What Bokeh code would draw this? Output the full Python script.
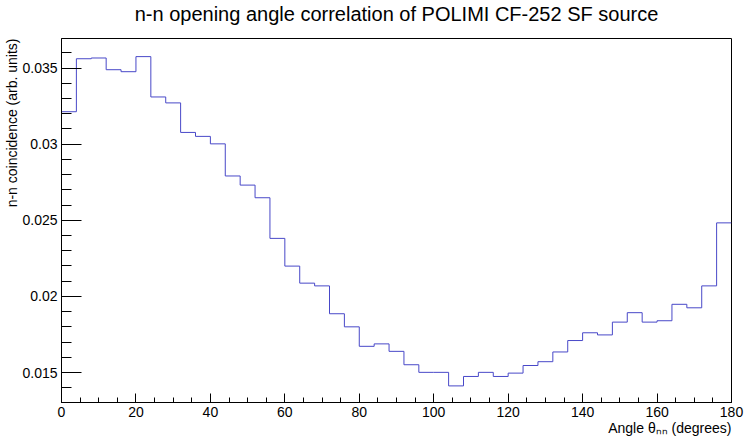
from bokeh.plotting import figure
from bokeh.models import FixedTicker, CustomJSTickFormatter, Range1d, Title
from bokeh.embed import file_html
from bokeh.resources import INLINE

# Histogram: 45 bins of 4 degrees from 0 to 180
bin_edges = [4 * i for i in range(46)]
counts = [
    0.03213, 0.03561, 0.03566, 0.03489, 0.03476, 0.03575, 0.03310, 0.03271,
    0.03077, 0.03051, 0.03002, 0.02791, 0.02731, 0.02648, 0.02381, 0.02199,
    0.02087, 0.02069, 0.01886, 0.01800, 0.01672, 0.01688, 0.01639, 0.01551,
    0.01501, 0.01501, 0.01412, 0.01474, 0.01501, 0.01474, 0.01496, 0.01546,
    0.01571, 0.01635, 0.01710, 0.01761, 0.01747, 0.01831, 0.01893, 0.01831,
    0.01840, 0.01948, 0.01925, 0.02069, 0.02483,
]
x_major = [0, 20, 40, 60, 80, 100, 120, 140, 160, 180]
x_minor = [5 * i for i in range(37)]
y_major = [0.015, 0.02, 0.025, 0.03, 0.035]
y_minor = [0.013 + 0.001 * i for i in range(25)]

title_text = "n-n opening angle correlation of POLIMI CF-252 SF source"
x_label = "Angle θₙₙ (degrees)"
y_label = "n-n coincidence (arb. units)"

FONT = "Liberation Sans"

p = figure(width=750, height=440, output_backend="svg", toolbar_location=None,
           title=None,
           x_range=Range1d(0, 180), y_range=Range1d(0.01303, 0.03694),
           min_border_left=61, min_border_right=19, min_border_top=0,
           min_border_bottom=38)

# spacer between frame and title, then the title itself
p.add_layout(Title(text=" ", text_font_size="11px", standoff=0, offset=0), "above")
p.add_layout(Title(text=title_text, align="center", text_font=FONT,
                   text_font_size="20px", text_font_style="normal",
                   text_color="black", standoff=0, offset=0), "above")

step_y = counts + [counts[-1]]
p.step(x=bin_edges, y=step_y, mode="after", line_color="#4848c8", line_width=1)

p.grid.visible = False
p.outline_line_color = "black"
p.outline_line_width = 1
p.background_fill_color = "white"
p.border_fill_color = "white"

fmt = CustomJSTickFormatter(code="return String(Number(tick.toPrecision(6)));")

xa = p.xaxis[0]
xa.ticker = FixedTicker(ticks=x_major, minor_ticks=x_minor)
xa.major_tick_in = 9
xa.major_tick_out = 0
xa.minor_tick_in = 5
xa.minor_tick_out = 0
xa.axis_line_color = "black"
xa.major_tick_line_color = "black"
xa.minor_tick_line_color = "black"
xa.major_label_text_font = FONT
xa.major_label_text_font_size = "14px"
xa.major_label_text_color = "black"
xa.major_label_standoff = 4
xa.formatter = fmt

ya = p.yaxis[0]
ya.ticker = FixedTicker(ticks=y_major, minor_ticks=y_minor)
ya.major_tick_in = 20
ya.major_tick_out = 0
ya.minor_tick_in = 10
ya.minor_tick_out = 0
ya.axis_line_color = "black"
ya.major_tick_line_color = "black"
ya.minor_tick_line_color = "black"
ya.major_label_text_font = FONT
ya.major_label_text_font_size = "14px"
ya.major_label_text_color = "black"
ya.major_label_standoff = 4
ya.formatter = fmt

p.add_layout(Title(text=x_label, align="right", text_font=FONT,
                   text_font_size="14px", text_font_style="normal",
                   text_color="black", standoff=-4, offset=0), "below")
p.add_layout(Title(text=y_label, align="right", text_font=FONT,
                   text_font_size="14px", text_font_style="normal",
                   text_color="black", standoff=0, offset=0), "left")

open("out.html", "w").write(file_html(p, INLINE))
